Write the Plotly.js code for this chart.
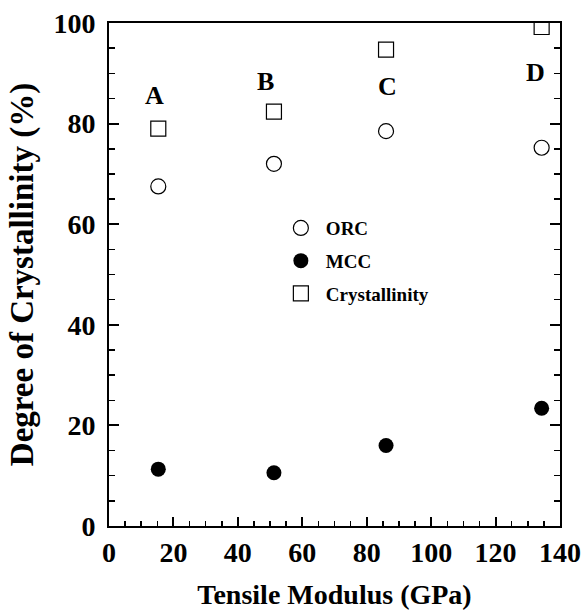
<!DOCTYPE html>
<html>
<head>
<meta charset="utf-8">
<script src="https://cdn.plot.ly/plotly-3.0.1.min.js"></script>
<style>html,body{margin:0;padding:0;background:#fff;}#chart{width:584px;height:610px;}</style>
</head>
<body>
<div id="chart"></div>
<script>
var samples = ["A", "B", "C", "D"];
var modulus = [15.3, 51.2, 86.0, 134.3];
var orc = [67.5, 72.0, 78.5, 75.2];
var mcc = [11.3, 10.6, 16.0, 23.4];
var crystallinity = [79.0, 82.4, 94.7, 99.2];
var labelX = [14.1, 48.5, 86.6, 132.3];
var labelY = [85.6, 88.4, 87.4, 90.2];

var serif = "Liberation Serif, Times New Roman, serif";

var traces = [
  {x: modulus, y: orc, name: "ORC", mode: "markers", type: "scatter", legendgroup: "g1",
   marker: {symbol: "circle-open", size: 15, color: "#000", line: {width: 1.2, color: "#000"}}},
  {x: modulus, y: mcc, name: "MCC", mode: "markers", type: "scatter", legendgroup: "g2",
   marker: {symbol: "circle", size: 15, color: "#000"}},
  {x: modulus, y: crystallinity, name: "Crystallinity", mode: "markers", type: "scatter", legendgroup: "g3",
   marker: {symbol: "square-open", size: 15, color: "#000", line: {width: 1.2, color: "#000"}}}
];

var annotations = samples.map(function (s, i) {
  return {x: labelX[i], y: labelY[i], xref: "x", yref: "y", text: s, showarrow: false,
          font: {family: serif, size: 26, color: "#000", weight: "bold"}};
});

var layout = {
  width: 584, height: 610,
  margin: {l: 109, r: 24, t: 23, b: 84},
  paper_bgcolor: "#fff", plot_bgcolor: "#fff",
  font: {family: serif, color: "#000"},
  showlegend: true,
  legend: {x: 0.37, y: 0.63, xanchor: "left", yanchor: "top", bgcolor: "rgba(0,0,0,0)",
           font: {family: serif, size: 19, color: "#000", weight: "bold"},
           tracegroupgap: 5, itemwidth: 40},
  xaxis: {range: [0, 140], showgrid: false, zeroline: false, showline: true, linewidth: 2, linecolor: "#000",
          mirror: true, ticks: "inside", ticklen: 9, tickwidth: 2, tickcolor: "#000", dtick: 20, tick0: 0,
          minor: {dtick: 5, ticks: "inside", ticklen: 5, tickwidth: 1.5, tickcolor: "#000"},
          tickfont: {family: serif, size: 28, color: "#000", weight: "bold"},
          title: {text: "Tensile Modulus (GPa)", standoff: 22, font: {family: serif, size: 28, color: "#000", weight: "bold"}}},
  yaxis: {range: [0, 100], showgrid: false, zeroline: false, showline: true, linewidth: 2, linecolor: "#000",
          mirror: "ticks", ticks: "inside", ticklen: 10, tickwidth: 2, tickcolor: "#000", dtick: 20, tick0: 0,
          minor: {dtick: 5, ticks: "inside", ticklen: 6, tickwidth: 1.5, tickcolor: "#000"},
          ticklabelstandoff: 6,
          tickfont: {family: serif, size: 28, color: "#000", weight: "bold"},
          title: {text: "Degree of Crystallinity (%)", standoff: 10, font: {family: serif, size: 33, color: "#000", weight: "bold"}}},
  annotations: annotations
};

Plotly.newPlot("chart", traces, layout, {displayModeBar: false, staticPlot: true});
</script>
</body>
</html>
